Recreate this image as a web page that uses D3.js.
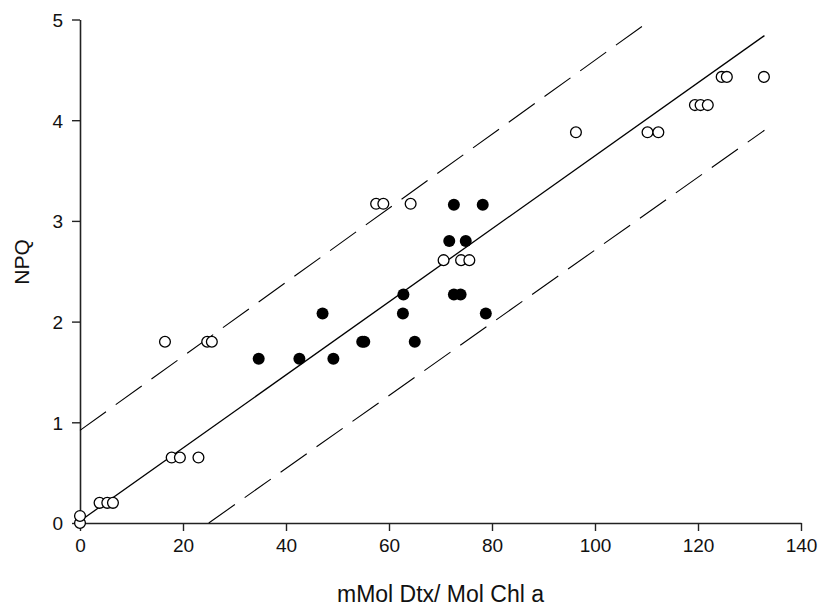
<!DOCTYPE html>
<html>
<head>
<meta charset="utf-8">
<script src="https://cdn.jsdelivr.net/npm/d3@7"></script>
<style>
  body { margin: 0; background: #fff; }
  svg { display: block; font-family: Arial, "Liberation Sans", sans-serif; }
</style>
</head>
<body>
<svg width="820" height="606"></svg>
<script>
// open circles (x = mMol Dtx / Mol Chl a, y = NPQ)
var openX = [0, 0, 3.8, 5.3, 6.4, 17.8, 19.4, 23.0, 16.5, 24.7, 25.6,
             57.5, 58.9, 64.2, 70.6, 74.0, 75.6, 96.3, 110.2, 112.3,
             119.4, 120.5, 121.9, 124.6, 125.6, 132.8];
var openY = [0.0, 0.07, 0.20, 0.20, 0.20, 0.65, 0.65, 0.65, 1.80, 1.80, 1.80,
             3.17, 3.17, 3.17, 2.61, 2.61, 2.61, 3.88, 3.88, 3.88,
             4.15, 4.15, 4.15, 4.43, 4.43, 4.43];

// filled circles
var filledX = [72.6, 78.2, 71.7, 74.9, 62.8, 72.6, 73.9, 47.1, 62.7, 78.8,
               54.8, 55.2, 65.0, 34.7, 42.6, 49.2];
var filledY = [3.16, 3.16, 2.80, 2.80, 2.27, 2.27, 2.27, 2.08, 2.08, 2.08,
               1.80, 1.80, 1.80, 1.63, 1.63, 1.63];

// regression line and its confidence bounds (end points)
var fitLine   = [[0, 0.02], [132.9, 4.84]];
var upperLine = [[0, 0.92], [111.0, 5.0]];
var lowerLine = [[25.0, 0], [132.9, 3.90]];

var xTicks = [0, 20, 40, 60, 80, 100, 120, 140];
var yTicks = [0, 1, 2, 3, 4, 5];

var svg = d3.select("svg");
var margin = { top: 19.5, right: 19, bottom: 83, left: 80 };
var width = 820 - margin.left - margin.right;
var height = 606 - margin.top - margin.bottom;

var x = d3.scaleLinear().domain([0, 140]).range([0, width]);
var y = d3.scaleLinear().domain([0, 5]).range([height, 0]);

var g = svg.append("g")
    .attr("transform", "translate(" + margin.left + "," + margin.top + ")");

// axes
var xAxis = g.append("g")
    .attr("transform", "translate(0," + height + ")")
    .call(d3.axisBottom(x).tickValues(xTicks).tickFormat(d3.format("d"))
        .tickSize(8).tickPadding(8).tickSizeOuter(0));
var yAxis = g.append("g")
    .call(d3.axisLeft(y).tickValues(yTicks).tickFormat(d3.format("d"))
        .tickSize(8).tickPadding(9).tickSizeOuter(0));

[xAxis, yAxis].forEach(function(a) {
    a.select(".domain").attr("stroke", "#222").attr("stroke-width", 1.6);
    a.selectAll(".tick line").attr("stroke", "#222").attr("stroke-width", 1.4);
    a.selectAll(".tick text").attr("fill", "#111").style("font-size", "19px")
        .style("font-family", "Arial, 'Liberation Sans', sans-serif");
});
yAxis.selectAll(".tick text").attr("dy", "0.36em");

// lines
var line = d3.line().x(function(d) { return x(d[0]); }).y(function(d) { return y(d[1]); });

g.append("path").datum(fitLine)
    .attr("d", line).attr("fill", "none")
    .attr("stroke", "#000").attr("stroke-width", 1.3);

[upperLine, lowerLine].forEach(function(l) {
    g.append("path").datum(l)
        .attr("d", line).attr("fill", "none")
        .attr("stroke", "#000").attr("stroke-width", 1.1)
        .attr("stroke-dasharray", "32,12");
});

// points
g.selectAll(".open")
    .data(d3.range(openX.length))
  .enter().append("circle")
    .attr("class", "open")
    .attr("cx", function(i) { return x(openX[i]); })
    .attr("cy", function(i) { return y(openY[i]); })
    .attr("r", 5.4)
    .attr("fill", "#fff")
    .attr("stroke", "#000")
    .attr("stroke-width", 1.3);

g.selectAll(".filled")
    .data(d3.range(filledX.length))
  .enter().append("circle")
    .attr("class", "filled")
    .attr("cx", function(i) { return x(filledX[i]); })
    .attr("cy", function(i) { return y(filledY[i]); })
    .attr("r", 6)
    .attr("fill", "#000");

// axis labels
svg.append("text")
    .attr("x", margin.left + width / 2)
    .attr("y", 602)
    .style("text-anchor", "middle")
    .style("font-size", "23px")
    .attr("fill", "#111")
    .text("mMol Dtx/ Mol Chl a");

svg.append("text")
    .attr("transform", "translate(29,262) rotate(-90)")
    .style("text-anchor", "middle")
    .style("font-size", "21px")
    .attr("fill", "#111")
    .text("NPQ");
</script>
</body>
</html>
